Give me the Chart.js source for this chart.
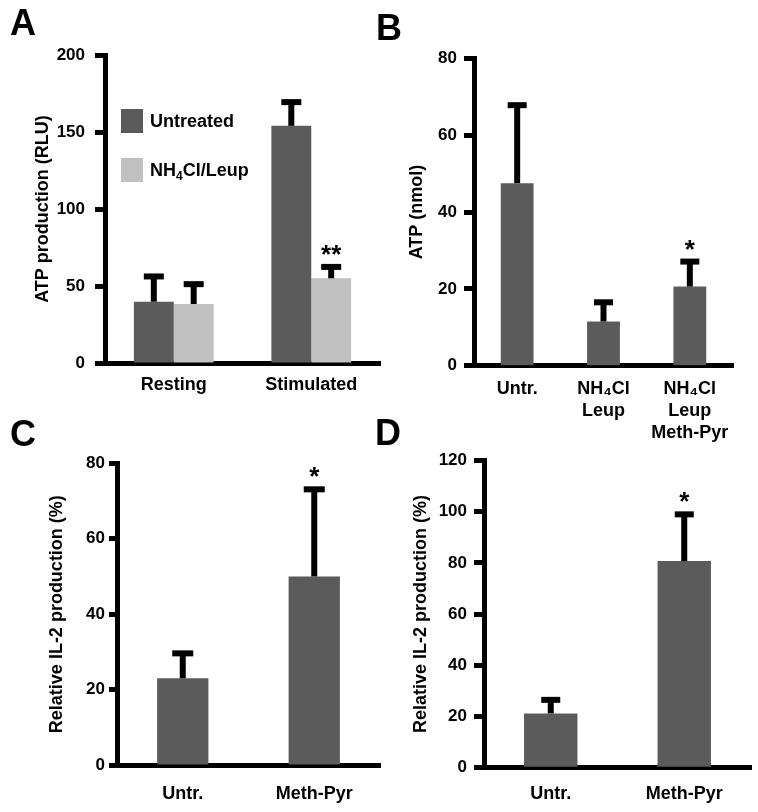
<!DOCTYPE html>
<html>
<head>
<meta charset="utf-8">
<script src="https://cdn.jsdelivr.net/npm/chart.js@4.4.1/dist/chart.umd.min.js"></script>
<style>
  body { margin: 0; background: #fff; }
  #fig { position: relative; width: 758px; height: 812px; overflow: hidden; font-family: 'Liberation Sans', Arial, sans-serif; }
  canvas { position: absolute; }
  .panel-letter { position: absolute; font-weight: bold; font-size: 36px; line-height: 36px; color: #000; }
</style>
</head>
<body>
<div id="fig">
  <canvas id="chartA" width="385" height="420" style="left:0;top:0"></canvas>
  <canvas id="chartB" width="388" height="445" style="left:370px;top:0"></canvas>
  <canvas id="chartC" width="385" height="382" style="left:0;top:430px"></canvas>
  <canvas id="chartD" width="388" height="382" style="left:370px;top:430px"></canvas>
  <div class="panel-letter" style="left:10px;top:5px">A</div>
  <div class="panel-letter" style="left:376px;top:10px">B</div>
  <div class="panel-letter" style="left:10px;top:416px">C</div>
  <div class="panel-letter" style="left:375px;top:415px">D</div>
</div>
<script>
// panel A
const aCategories = ['Resting', 'Stimulated'];
const aUntreated = [39.8, 154];
const aUntreatedErr = [16.4, 15.4];
const aLeup = [38.3, 55];
const aLeupErr = [12.9, 7.4];
const aLeupStars = ['', '**'];
const aTicks = [0, 50, 100, 150, 200];

// panel B
const bCategories = ['Untr.', ['NH₄Cl', 'Leup'], ['NH₄Cl', 'Leup', 'Meth-Pyr']];
const bValues = [47.5, 11.5, 20.6];
const bErr = [20.3, 5, 6.5];
const bStars = ['', '', '*'];
const bTicks = [0, 20, 40, 60, 80];

// panel C
const cCategories = ['Untr.', 'Meth-Pyr'];
const cValues = [23, 50];
const cErr = [6.6, 23.1];
const cStars = ['', '*'];
const cTicks = [0, 20, 40, 60, 80];

// panel D
const dCategories = ['Untr.', 'Meth-Pyr'];
const dValues = [21.1, 80.7];
const dErr = [5.3, 18.3];
const dStars = ['', '*'];
const dTicks = [0, 20, 40, 60, 80, 100, 120];

const DARK = '#5b5b5b';
const LIGHT = '#c0c0c0';
const FONT = "'Liberation Sans', Arial, sans-serif";

Chart.defaults.font.family = FONT;
Chart.defaults.color = '#000';

// draws text, turning subscript digits into small lowered digits
function drawSubText(ctx, text, x, y, size) {
    const subs = '₀₁₂₃₄₅₆₇₈₉';
    let cx = x;
    for (const ch of text) {
        const k = subs.indexOf(ch);
        if (k >= 0) {
            ctx.font = 'bold ' + Math.round(size * 0.65) + 'px ' + FONT;
            ctx.fillText(String(k), cx, y + size * 0.3);
            cx += ctx.measureText(String(k)).width;
        } else {
            ctx.font = 'bold ' + size + 'px ' + FONT;
            ctx.fillText(ch, cx, y);
            cx += ctx.measureText(ch).width;
        }
    }
}

const errorBarPlugin = {
    id: 'errorBars',
    afterDatasetsDraw(chart, args, opts) {
        const ctx = chart.ctx;
        const yScale = chart.scales.y;
        const capW = opts.capWidth || 20;
        chart.data.datasets.forEach((ds, i) => {
            const meta = chart.getDatasetMeta(i);
            meta.data.forEach((bar, j) => {
                const top = yScale.getPixelForValue(ds.data[j] + ds.errors[j]);
                ctx.save();
                ctx.strokeStyle = '#000';
                ctx.lineWidth = 6;
                ctx.beginPath();
                ctx.moveTo(bar.x, bar.y);
                ctx.lineTo(bar.x, top);
                ctx.stroke();
                ctx.beginPath();
                ctx.moveTo(bar.x - capW / 2, top);
                ctx.lineTo(bar.x + capW / 2, top);
                ctx.stroke();
                if (ds.stars && ds.stars[j]) {
                    ctx.fillStyle = '#000';
                    ctx.font = 'bold 26px ' + FONT;
                    ctx.textAlign = 'center';
                    ctx.textBaseline = 'alphabetic';
                    ctx.fillText(ds.stars[j], bar.x, top - 4);
                }
                ctx.restore();
            });
        });
    }
};

// legend drawn inside the plot area of panel A
const boxLegendPlugin = {
    id: 'boxLegend',
    afterDraw(chart, args, opts) {
        if (!opts.show) return;
        const ctx = chart.ctx;
        const area = chart.chartArea;
        chart.data.datasets.forEach((ds, i) => {
            const cy = area.top + opts.firstY + i * opts.gap;
            const bx = area.left + opts.offsetX;
            ctx.save();
            ctx.fillStyle = ds.backgroundColor;
            ctx.fillRect(bx, cy - 12, 22, 24);
            ctx.fillStyle = '#000';
            ctx.textBaseline = 'middle';
            ctx.textAlign = 'left';
            drawSubText(ctx, ds.label, bx + 29, cy + 1, 18);
            ctx.restore();
        });
    }
};

function makePanel(id, cfg) {
    const canvas = document.getElementById(id);
    const w = canvas.width, h = canvas.height;
    const padLeft = cfg.titleX - 10.8;
    return new Chart(canvas.getContext('2d'), {
        type: 'bar',
        data: { labels: cfg.labels, datasets: cfg.datasets },
        options: {
            responsive: false,
            animation: false,
            layout: { padding: { left: padLeft, top: cfg.area.top, right: w - cfg.area.right, bottom: 0 } },
            datasets: { bar: { categoryPercentage: cfg.catPct, barPercentage: 1 } },
            scales: {
                x: {
                    grid: { display: false, drawTicks: false },
                    border: { display: true, color: '#000', width: 5 },
                    ticks: { color: '#000', font: { size: 18, weight: 'bold' }, padding: cfg.xPad, maxRotation: 0, autoSkip: false },
                    afterFit(scale) { scale.height = h - cfg.area.bottom; }
                },
                y: {
                    min: cfg.yTicks[0],
                    max: cfg.yTicks[cfg.yTicks.length - 1],
                    afterBuildTicks(scale) { scale.ticks = cfg.yTicks.map(v => ({ value: v })); },
                    grid: { display: true, drawOnChartArea: false, drawTicks: true, tickLength: cfg.tickLen, tickWidth: 5, tickColor: '#000' },
                    border: { display: true, color: '#000', width: 5 },
                    ticks: { color: '#000', font: { size: 17, weight: 'bold' }, padding: cfg.yPad },
                    title: { display: true, text: cfg.yTitle, color: '#000', font: { size: 18, weight: 'bold' }, padding: 0 },
                    afterFit(scale) { scale.width = cfg.area.left - padLeft; }
                }
            },
            plugins: {
                legend: { display: false },
                tooltip: { enabled: false },
                errorBars: { capWidth: cfg.capWidth },
                boxLegend: cfg.legend || { show: false }
            }
        },
        plugins: [errorBarPlugin, boxLegendPlugin]
    });
}

makePanel('chartA', {
    labels: aCategories,
    datasets: [
        { label: 'Untreated', data: aUntreated, errors: aUntreatedErr, backgroundColor: DARK },
        { label: 'NH₄Cl/Leup', data: aLeup, errors: aLeupErr, stars: aLeupStars, backgroundColor: LIGHT }
    ],
    yTicks: aTicks,
    yTitle: 'ATP production (RLU)',
    area: { left: 105, top: 55, bottom: 363, right: 380 },
    titleX: 43, tickLen: 10, yPad: 10, xPad: 11, catPct: 0.58, capWidth: 20,
    legend: { show: true, offsetX: 16, firstY: 66, gap: 49 }
});

makePanel('chartB', {
    labels: bCategories,
    datasets: [{ label: 'ATP', data: bValues, errors: bErr, stars: bStars, backgroundColor: DARK }],
    yTicks: bTicks,
    yTitle: 'ATP (nmol)',
    area: { left: 104, top: 58.3, bottom: 365.7, right: 363 },
    titleX: 47, tickLen: 10, yPad: 7, xPad: 13, catPct: 0.38, capWidth: 19
});

makePanel('chartC', {
    labels: cCategories,
    datasets: [{ label: 'IL-2', data: cValues, errors: cErr, stars: cStars, backgroundColor: DARK }],
    yTicks: cTicks,
    yTitle: 'Relative IL-2 production (%)',
    area: { left: 117, top: 33.3, bottom: 335, right: 380 },
    titleX: 57, tickLen: 8, yPad: 4, xPad: 18, catPct: 0.39, capWidth: 21
});

makePanel('chartD', {
    labels: dCategories,
    datasets: [{ label: 'IL-2', data: dValues, errors: dErr, stars: dStars, backgroundColor: DARK }],
    yTicks: dTicks,
    yTitle: 'Relative IL-2 production (%)',
    area: { left: 114, top: 30.7, bottom: 337.3, right: 381 },
    titleX: 51, tickLen: 10, yPad: 7, xPad: 16, catPct: 0.40, capWidth: 19
});
</script>
</body>
</html>
